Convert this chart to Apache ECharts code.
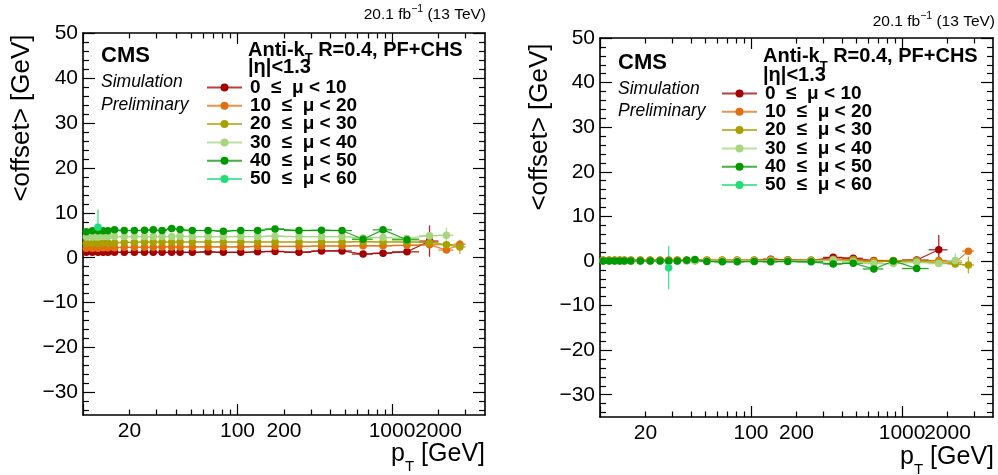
<!DOCTYPE html>
<html><head><meta charset="utf-8">
<script src="https://cdn.jsdelivr.net/npm/echarts@6/dist/echarts.min.js"></script>
<style>html,body{margin:0;padding:0;background:#fff}#c{width:998px;height:475px}</style>
</head><body><div id="c"></div>
<script>
const FONT = '"Liberation Sans", Arial, Helvetica, sans-serif';

// ---------- data ----------
const muNames = ['0  \u2264  \u03bc < 10', '10  \u2264  \u03bc < 20', '20  \u2264  \u03bc < 30', '30  \u2264  \u03bc < 40', '40  \u2264  \u03bc < 50', '50  \u2264  \u03bc < 60'];
const muColors = ['#a30000', '#e0700f', '#a9a000', '#a6d67e', '#009a00', '#22dd77'];

const ptCenter = [10.5,11.5,12.5,13.5,14.5,16,18.5,21.5,25,28.5,32.5,37.5,42.5,51,64.5,81,105,135,175,250,350,475,650,875,1250,1750,2250,2750];
const ptLow    = [10,11,12,13,14,15,17,20,23,27,30,35,40,45,57,72,90,120,150,200,300,400,550,750,1000,1500,2000,2500];
const ptHigh   = [11,12,13,14,15,17,20,23,27,30,35,40,45,57,72,90,120,150,200,300,400,550,750,1000,1500,2000,2500,3000];

// left plot: <offset> per mu bin
const L_mu0  = [1.2,1.2,1.2,1.2,1.2,1.2,1.2,1.2,1.2,1.2,1.2,1.2,1.2,1.2,1.3,1.2,1.2,1.3,1.4,1.2,1.5,1.5,0.8,1.0,1.3,3.7,null,null];
const L_mu10 = [2.1,2.1,2.1,2.2,2.2,2.2,2.3,2.3,2.3,2.3,2.4,2.4,2.4,2.4,2.4,2.4,2.4,2.5,2.5,2.5,2.6,2.6,2.65,2.65,2.75,2.9,1.7,3.0];
const L_mu20 = [3.2,3.2,3.2,3.3,3.3,3.3,3.4,3.4,3.5,3.5,3.5,3.5,3.5,3.5,3.5,3.5,3.5,3.5,3.5,3.5,3.5,3.5,3.6,3.5,3.5,3.4,2.9,2.4];
const L_mu30 = [4.6,4.6,4.6,4.7,4.7,4.7,4.7,4.7,4.7,4.7,4.7,4.7,4.8,4.7,4.7,4.7,4.7,4.7,4.8,4.7,4.7,4.7,4.4,4.5,4.3,4.9,5.0,null];
const L_mu40 = [5.8,6.0,6.0,6.0,6.0,6.2,6.05,6.05,6.1,6.2,6.05,6.5,6.3,6.05,6.05,5.9,6.05,6.05,6.4,6.05,6.1,6.05,4.1,6.2,4.0,null,null,null];
const L_mu50 = [null,null,6.8,null,null,null,null,null,null,null,null,null,null,null,null,null,null,null,null,null,null,null,null,null,null,null,null,null];
const L_err0  = [0.1,0.1,0.1,0.1,0.1,0.1,0.1,0.1,0.1,0.1,0.1,0.1,0.1,0.1,0.1,0.1,0.1,0.1,0.1,0.1,0.2,0.3,0.4,0.4,0.5,3.5,null,null];
const L_err10 = [0.1,0.1,0.1,0.1,0.1,0.1,0.1,0.1,0.1,0.1,0.1,0.1,0.1,0.1,0.1,0.1,0.1,0.1,0.1,0.1,0.2,0.2,0.3,0.3,0.4,0.8,0.5,0.6];
const L_err20 = [0.1,0.1,0.1,0.1,0.1,0.1,0.1,0.1,0.1,0.1,0.1,0.1,0.1,0.1,0.1,0.1,0.1,0.1,0.1,0.1,0.2,0.2,0.3,0.3,0.4,0.6,0.6,1.6];
const L_err30 = [0.1,0.1,0.1,0.1,0.1,0.1,0.1,0.1,0.1,0.1,0.1,0.1,0.1,0.1,0.1,0.1,0.1,0.1,0.1,0.1,0.2,0.2,0.3,0.3,0.4,0.6,1.7,null];
const L_err40 = [0.1,0.1,0.1,0.1,0.1,0.1,0.1,0.1,0.1,0.1,0.1,0.1,0.1,0.1,0.1,0.1,0.1,0.1,0.1,0.1,0.2,0.2,0.3,0.3,0.4,null,null,null];
const L_err50 = [null,null,3.9,null,null,null,null,null,null,null,null,null,null,null,null,null,null,null,null,null,null,null,null,null,null,null,null,null];

// right plot
const R_mu0  = [0.1,0.1,0.1,0.1,0.1,0.1,0.1,0.1,0.1,0.1,0.1,0.1,0.1,0.1,0.1,0.1,0.1,0.4,0.2,0.1,0.8,0.6,0.1,0.0,0.2,2.5,null,null];
const R_mu10 = [0.2,0.2,0.2,0.2,0.2,0.2,0.2,0.2,0.2,0.2,0.2,0.2,0.2,0.2,0.2,0.2,0.2,0.3,0.2,0.2,0.4,0.3,0.0,0.1,0.1,0.1,-0.3,2.2];
const R_mu20 = [0.1,0.1,0.1,0.1,0.1,0.1,0.1,0.1,0.1,0.1,0.1,0.1,0.1,0.1,0.1,0.1,0.1,0.1,0.1,0.1,0.1,0.1,-0.2,0.0,0.0,-0.3,-0.7,-0.9];
const R_mu30 = [0.0,0.0,0.0,0.0,0.0,0.0,0.0,0.0,0.0,0.0,0.0,0.0,0.0,0.0,0.0,0.0,0.0,0.0,0.0,0.0,0.2,-0.1,-0.6,-0.6,-0.3,-0.6,0.1,null];
const R_mu40 = [0.0,0.0,0.0,0.0,0.0,0.0,0.0,0.0,0.0,0.0,0.0,0.15,0.3,-0.1,-0.2,-0.2,-0.1,-0.2,-0.1,-0.2,-0.7,-0.5,-1.8,0.0,-1.7,null,null,null];
const R_mu50 = [null,null,null,null,null,null,null,null,null,-1.5,null,null,null,null,null,null,null,null,null,null,null,null,null,null,null,null,null,null];
const R_err0  = [0.1,0.1,0.1,0.1,0.1,0.1,0.1,0.1,0.1,0.1,0.1,0.1,0.1,0.1,0.1,0.1,0.1,0.1,0.1,0.1,0.3,0.3,0.4,0.4,0.5,3.3,null,null];
const R_err10 = [0.1,0.1,0.1,0.1,0.1,0.1,0.1,0.1,0.1,0.1,0.1,0.1,0.1,0.1,0.1,0.1,0.1,0.1,0.1,0.1,0.2,0.2,0.3,0.3,0.4,0.5,0.5,0.6];
const R_err20 = [0.1,0.1,0.1,0.1,0.1,0.1,0.1,0.1,0.1,0.1,0.1,0.1,0.1,0.1,0.1,0.1,0.1,0.1,0.1,0.1,0.2,0.2,0.3,0.3,0.4,0.5,0.6,1.9];
const R_err30 = [0.1,0.1,0.1,0.1,0.1,0.1,0.1,0.1,0.1,0.1,0.1,0.1,0.1,0.1,0.1,0.1,0.1,0.1,0.1,0.1,0.2,0.2,0.3,0.3,0.4,0.5,1.6,null];
const R_err40 = [0.1,0.1,0.1,0.1,0.1,0.1,0.1,0.1,0.1,0.1,0.1,0.1,0.1,0.1,0.1,0.1,0.1,0.1,0.1,0.1,0.2,0.2,0.3,0.3,0.4,null,null,null];
const R_err50 = [null,null,null,null,null,null,null,null,null,4.85,null,null,null,null,null,null,null,null,null,null,null,null,null,null,null,null,null,null];

// axis ticks and labels
const xMin = 10, xMax = 4000;
const xTickLabels = [20, 100, 200, 1000, 2000];
const xMajorTicks = [10, 100, 1000];
const xMinorTicks = [20,30,40,50,60,70,80,90,200,300,400,500,600,700,800,900,2000,3000];
const yMin = -35, yMax = 50;
const yTickLabels = [-30,-20,-10,0,10,20,30,40,50];
const yMinorTicks = [-34,-32,-28,-26,-24,-22,-18,-16,-14,-12,-8,-6,-4,-2,2,4,6,8,12,14,16,18,22,24,26,28,32,34,36,38,42,44,46,48];

// ---------- build ----------
const LOGMIN = Math.log10(xMin), LOGMAX = Math.log10(xMax);
const black = '#000';
const tickLabelStyle = {color: black, fontFamily: FONT, fontSize: 21};
// labels split over two overlaid axes so that touching labels (1000 / 2000) are both kept
const xLabelsA = xTickLabels.filter((v, i) => i % 2 === 0);
const xLabelsB = xTickLabels.filter((v, i) => i % 2 === 1);
const xFmt = v => String(Math.round(Math.pow(10, v)));

function xAxesFor(g) {
  const base = (pos) => ({gridIndex: g, type: 'value', min: LOGMIN, max: LOGMAX, position: pos,
    splitLine: {show: false}, axisLine: {show: false, onZero: false}, axisLabel: {show: false}});
  return [
    {gridIndex: g, type: 'log', logBase: 10, min: xMin, max: xMax, position: 'bottom',
     axisLine: {show: true, onZero: false, lineStyle: {color: black, width: 1.6}},
     axisTick: {show: false}, axisLabel: {show: false}, splitLine: {show: false}, minorTick: {show: false}},
    Object.assign(base('bottom'), {
      axisTick: {show: true, inside: true, length: 11, customValues: xMajorTicks.map(Math.log10), lineStyle: {color: black, width: 1.2}},
      axisLabel: Object.assign({show: true, margin: 6, customValues: xLabelsB.map(Math.log10), formatter: xFmt}, tickLabelStyle)}),
    Object.assign(base('bottom'), {
      axisTick: {show: true, inside: true, length: 5.5, customValues: xMinorTicks.map(Math.log10), lineStyle: {color: black, width: 1.2}},
      axisLabel: Object.assign({show: true, margin: 6, customValues: xLabelsA.map(Math.log10), formatter: xFmt}, tickLabelStyle)}),
    Object.assign(base('top'), {
      axisLine: {show: true, onZero: false, lineStyle: {color: black, width: 1.6}},
      axisTick: {show: true, inside: true, length: 11, customValues: xMajorTicks.map(Math.log10), lineStyle: {color: black, width: 1.2}}}),
    Object.assign(base('top'), {
      axisTick: {show: true, inside: true, length: 5.5, customValues: xMinorTicks.map(Math.log10), lineStyle: {color: black, width: 1.2}}})
  ];
}
function yAxesFor(g) {
  const base = (pos) => ({gridIndex: g, type: 'value', min: yMin, max: yMax, position: pos,
    splitLine: {show: false}, axisLine: {show: false, onZero: false}, axisLabel: {show: false}});
  return [
    Object.assign(base('left'), {
      axisLine: {show: true, onZero: false, lineStyle: {color: black, width: 1.6}},
      axisTick: {show: true, inside: true, length: 12, customValues: yTickLabels, lineStyle: {color: black, width: 1.2}},
      axisLabel: Object.assign({show: true, margin: 5, customValues: yTickLabels,
        formatter: v => String(v).replace('-', '\u2212')}, tickLabelStyle)}),
    Object.assign(base('left'), {
      axisTick: {show: true, inside: true, length: 6, customValues: yMinorTicks, lineStyle: {color: black, width: 1.2}}}),
    Object.assign(base('right'), {
      axisLine: {show: true, onZero: false, lineStyle: {color: black, width: 1.6}},
      axisTick: {show: true, inside: true, length: 12, customValues: yTickLabels, lineStyle: {color: black, width: 1.2}}}),
    Object.assign(base('right'), {
      axisTick: {show: true, inside: true, length: 6, customValues: yMinorTicks, lineStyle: {color: black, width: 1.2}}})
  ];
}

function renderErr(params, api) {
  const x = api.value(0), y = api.value(1), lo = api.value(2), hi = api.value(3), e = api.value(4);
  const a = api.coord([lo, y]), b = api.coord([hi, y]);
  const t = api.coord([x, y + e]), d = api.coord([x, y - e]);
  const st = {stroke: api.visual('color'), lineWidth: 1.3, opacity: 0.85};
  return {type: 'group', children: [
    {type: 'line', shape: {x1: a[0], y1: a[1], x2: b[0], y2: b[1]}, style: st},
    {type: 'line', shape: {x1: t[0], y1: t[1], x2: d[0], y2: d[1]}, style: st}
  ]};
}

const series = [];
function addPlot(g, vals, errs) {
  const xi = g * 5, yi = g * 4;
  vals.forEach((arr, s) => {
    const pts = [], eb = [];
    arr.forEach((v, i) => {
      if (v === null) return;
      pts.push([ptCenter[i], v]);
      eb.push([ptCenter[i], v, ptLow[i], ptHigh[i], errs[s][i]]);
    });
    series.push({type: 'custom', name: 'err' + g + '_' + s, xAxisIndex: xi, yAxisIndex: yi,
      renderItem: renderErr, data: eb, encode: {x: 0, y: 1}, itemStyle: {color: muColors[s]},
      z: 2, silent: true, animation: false});
    series.push({type: 'line', name: muNames[s], xAxisIndex: xi, yAxisIndex: yi, data: pts,
      symbol: 'circle', symbolSize: 7.5, showSymbol: true,
      lineStyle: {width: 1.2, color: muColors[s], opacity: 0.85},
      itemStyle: {color: muColors[s]}, z: 3, animation: false, silent: true});
  });
}
addPlot(0, [L_mu0, L_mu10, L_mu20, L_mu30, L_mu40, L_mu50], [L_err0, L_err10, L_err20, L_err30, L_err40, L_err50]);
addPlot(1, [R_mu0, R_mu10, R_mu20, R_mu30, R_mu40, R_mu50], [R_err0, R_err10, R_err20, R_err30, R_err40, R_err50]);

// ---------- text helpers ----------
const mctx = document.createElement('canvas').getContext('2d');
function fontStr(size, weight, style) { return (style || 'normal') + ' ' + (weight || 'normal') + ' ' + size + 'px ' + FONT; }
function textEl(x, y, text, size, weight, style, align) {
  return {type: 'text', x: x, y: y, silent: true, style: {text: text, font: fontStr(size, weight, style), fill: black,
    align: align || 'left', verticalAlign: 'middle', textAlign: align || 'left', textVerticalAlign: 'middle'}};
}
function seqText(x, y, segs, anchor) {
  const ws = segs.map(s => { mctx.font = fontStr(s[1], s[2], s[3]); return mctx.measureText(s[0]).width; });
  const total = ws.reduce((a, b) => a + b, 0);
  let cx = anchor === 'right' ? x - total : x;
  return segs.map((s, i) => { const el = textEl(cx, y + (s[4] || 0), s[0], s[1], s[2], s[3]); cx += ws[i]; return el; });
}
function plotTexts(p) {
  return [].concat(
    seqText(p.lumiX, p.lumiY, [['20.1 fb', 15.5], ['\u22121', 10.5, 'normal', 'normal', -6], [' (13 TeV)', 15.5]], 'right'),
    [textEl(p.cmsX, p.cmsY, 'CMS', 22, 'bold'),
     textEl(p.cmsX, p.simY, 'Simulation', 17.5, 'normal', 'italic'),
     textEl(p.cmsX, p.preY, 'Preliminary', 17.5, 'normal', 'italic')],
    seqText(p.akX, p.akY, [['Anti-k', 20, 'bold'], ['T', 13, 'bold', 'normal', p.akDy], [' R=0.4, PF+CHS', 20, 'bold']]),
    [textEl(p.akX, p.etaY, '|\u03b7|<1.3', 20, 'bold')],
    seqText(p.ptX, p.ptY, [['p', 25], ['T', 15, 'normal', 'normal', 13], [' [GeV]', 25]], 'right'),
    [Object.assign(textEl(p.ytX, p.ytY, '<offset> [GeV]', 26, 'normal', 'normal', 'center'), {rotation: Math.PI / 2})]
  );
}
const graphics = [].concat(
  plotTexts({lumiX: 486, lumiY: 15, cmsX: 101, cmsY: 56, simY: 82, preY: 105, akX: 248, akY: 50, akDy: 8, etaY: 67,
             ptX: 485, ptY: 454, ytX: 22, ytY: 118}),
  plotTexts({lumiX: 995, lumiY: 22, cmsX: 618, cmsY: 63, simY: 89, preY: 111, akX: 763, akY: 56, akDy: 10, etaY: 75.5,
             ptX: 994, ptY: 457, ytX: 540, ytY: 127})
);

function legendFor(left, top) {
  return {left: left, top: top, orient: 'vertical', data: muNames, selectedMode: false, padding: 0,
    itemWidth: 35, itemHeight: 10, itemGap: -0.7,
    lineStyle: {width: 2, opacity: 0.75},
    textStyle: {fontFamily: FONT, fontWeight: 'bold', fontSize: 19, color: black, lineHeight: 18, padding: [0, 0, 0, 3]}};
}

const option = {
  backgroundColor: '#fff',
  animation: false,
  grid: [
    {left: 83, top: 33, width: 402, height: 382, outerBoundsMode: 'none'},
    {left: 600, top: 38, width: 393, height: 379, outerBoundsMode: 'none'}
  ],
  xAxis: [].concat(xAxesFor(0), xAxesFor(1)),
  yAxis: [].concat(yAxesFor(0), yAxesFor(1)),
  legend: [legendFor(206, 78), legendFor(721, 84)],
  series: series,
  graphic: graphics
};
const chart = echarts.init(document.getElementById('c'), null, {renderer: 'canvas'});
chart.setOption(option);
</script>
</body></html>
